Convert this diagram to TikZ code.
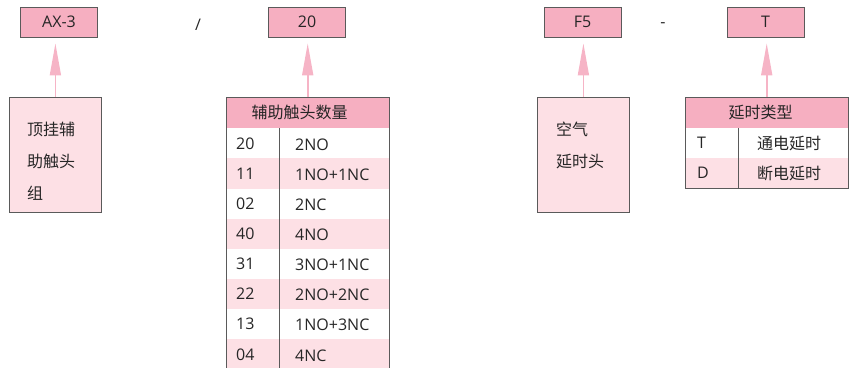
\documentclass[tikz,border=0pt]{standalone}
\usepackage{fontspec}
\setmainfont{Noto Sans CJK SC}
\newfontfamily\latf{Open Sans}
\usetikzlibrary{arrows.meta}
\definecolor{hdr}{HTML}{F6AFC1}
\definecolor{lite}{HTML}{FDE0E5}
\definecolor{frame}{HTML}{5A5A5A}
\definecolor{arrc}{HTML}{F6B4C6}
\definecolor{txt}{HTML}{262626}
\begin{document}
\begin{tikzpicture}[x=1pt,y=-1pt,
  font=\fontsize{16}{18}\selectfont, text=txt,
  lat/.style={font=\fontsize{16}{18}\selectfont\latf},
  topbox/.style={draw=frame, line width=0.8pt, fill=hdr, minimum width=77pt, minimum height=30pt, inner sep=0pt, lat},
  notebox/.style={draw=frame, line width=0.8pt, fill=lite, minimum width=92pt, minimum height=115pt, inner sep=0pt, anchor=north west},
  cell/.style={inner sep=0pt, minimum height=30.15pt, anchor=north west},
  hcell/.style={inner sep=0pt, minimum height=31pt, minimum width=163pt, fill=hdr, anchor=north west},
  lbl/.style={inner sep=0pt, anchor=west},
  note/.style={inner sep=0pt, anchor=west, align=left, font=\fontsize{16}{32}\selectfont},
  tframe/.style={draw=frame, line width=0.8pt},
  arr/.style={draw=arrc, line width=1.6pt, -{Triangle[length=32pt,width=11pt,fill=arrc]}}
]
\useasboundingbox (0,0) rectangle (850,367);
\clip (0,0) rectangle (850,367);

% top row
\node[topbox] (ax) at (59,22) {AX-3};
\node[lat] (slash) at (198,25) {/};
\node[topbox] (n20) at (307,22) {20};
\node[topbox] (f5) at (582.5,22) {F5};
\node[lat] (dash) at (663,25) {-};
\node[topbox] (tt) at (765.5,22) {T};

% left note box
\node[notebox] (lb) at (9,97) {};
\node[note] (lbt) at (27,161) {顶挂辅\\助触头\\组};

% air delay head box
\node[notebox] (ab) at (537,97) {};
\node[note] (abt) at (556,145) {空气\\延时头};

% table 1
\node[hcell] (h1) at (226,97) {};
\node (h1t) at ([xshift=-8pt]h1.center) {辅助触头数量};
\foreach \a/\b/\c [count=\k from 0] in {20/2NO/white, 11/1NO+1NC/lite, 02/2NC/white, 40/4NO/lite, 31/3NO+1NC/white, 22/2NO+2NC/lite, 13/1NO+3NC/white, 04/4NC/lite}{
  \pgfmathsetmacro\yy{128+30.15*\k}
  \node[cell, fill=\c, minimum width=53pt] (a\k) at (226,\yy) {};
  \node[cell, fill=\c, minimum width=110pt] (b\k) at (279,\yy) {};
  \node[lbl, lat] (ta\k) at ([xshift=10pt]a\k.west) {\a};
  \node[lbl, lat] (tb\k) at ([xshift=16pt,yshift=-1pt]b\k.west) {\b};
}
\draw[tframe] (h1.north west) rectangle (b7.south east);
\draw[tframe] (a0.north east) -- (a7.south east);

% table 2
\node[hcell] (h2) at (685,97) {};
\node (h2t) at ([xshift=-6pt]h2.center) {延时类型};
\node[cell, fill=white, minimum width=53pt, minimum height=30pt] (c0) at (685,128) {};
\node[cell, fill=white, minimum width=110pt, minimum height=30pt] (d0) at (738,128) {};
\node[cell, fill=lite, minimum width=53pt, minimum height=30pt] (c1) at (685,158) {};
\node[cell, fill=lite, minimum width=110pt, minimum height=30pt] (d1) at (738,158) {};
\node[lbl, lat] (tc0) at ([xshift=12pt]c0.west) {T};
\node[lbl] (td0) at ([xshift=19pt]d0.west) {通电延时};
\node[lbl, lat] (tc1) at ([xshift=12pt]c1.west) {D};
\node[lbl] (td1) at ([xshift=19pt]d1.west) {断电延时};
\draw[tframe] (h2.north west) rectangle (d1.south east);
\draw[tframe] (c0.north east) -- (c1.south east);

% arrows
\draw[arr] (lb.north) -- ([yshift=-6pt]lb.north |- ax.south);
\draw[arr] (h1.north) -- ([yshift=-6pt]h1.north |- n20.south);
\draw[arr] (ab.north) -- ([yshift=-6pt]ab.north |- f5.south);
\draw[arr] (h2.north) -- ([yshift=-6pt]h2.north |- tt.south);
\end{tikzpicture}
\end{document}
